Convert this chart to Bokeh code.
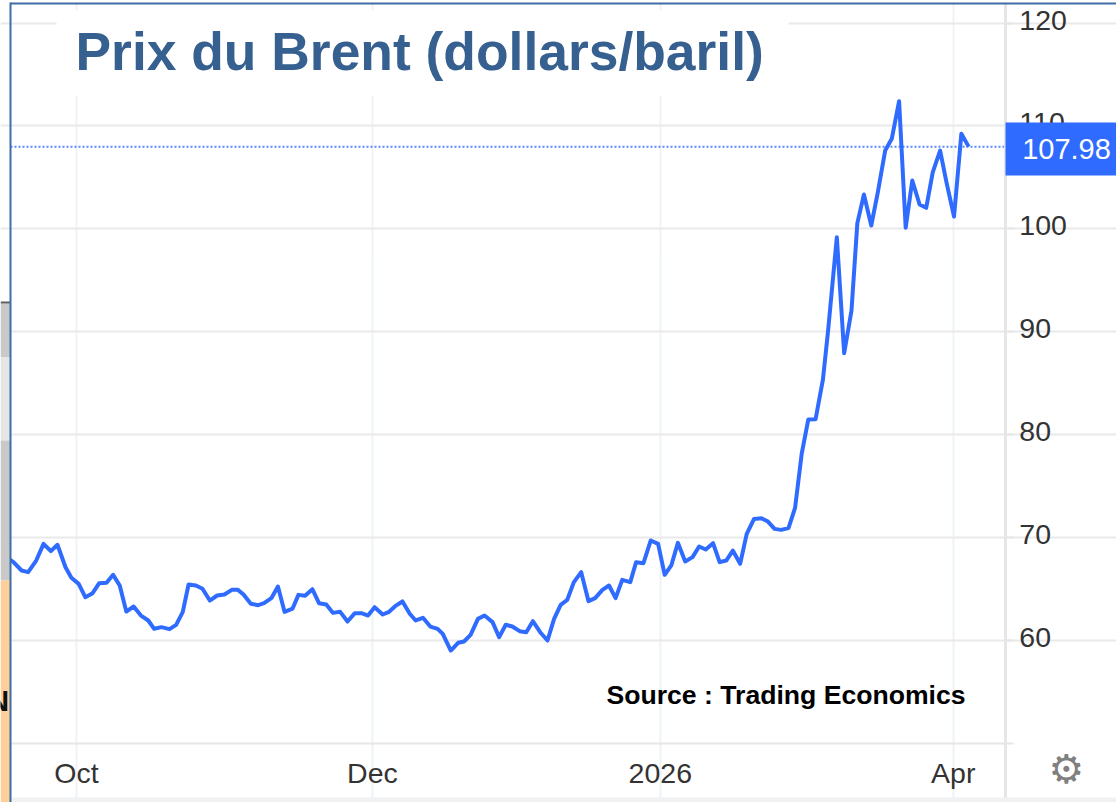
from bokeh.plotting import figure
from bokeh.models import (Range1d, FixedTicker, BoxAnnotation, Label, LinearAxis)
from bokeh.embed import file_html
from bokeh.resources import INLINE

sessions = [-9.9,-8.6,-7.5,-6.6,-5.5,-4.5,-3.5,-2.6,-1.5,-0.7,0.3,1.2,2.2,3.1,4.1,5.0,5.9,6.8,7.8,8.8,9.8,10.6,
 11.6,12.7,13.6,14.5,15.3,16.3,17.2,18.2,19.2,20.2,21.2,22.0,22.8,23.8,24.8,25.6,26.6,27.5,28.4,29.5,30.3,31.2,
 32.2,33.1,34.1,35.0,36.0,37.0,38.0,38.9,39.8,40.7,41.8,42.6,43.5,44.5,45.5,46.3,47.3,48.3,49.3,50.0,51.1,52.1,
 52.9,53.8,54.8,55.7,56.8,57.7,58.6,59.5,60.5,61.4,62.3,63.3,64.3,65.2,66.1,67.0,67.9,68.9,69.9,70.8,71.8,72.7,
 73.6,74.5,75.6,76.4,77.4,78.4,79.4,80.3,81.2,82.1,83.1,84.1,85.0,85.9,86.9,87.8,88.7,89.6,90.6,91.5,92.5,93.5,
 94.4,95.3,96.2,97.2,98.1,99.0,99.9,100.9,101.9,102.6,103.8,104.8,105.8,106.6,107.5,108.5,109.4,110.4,111.3,
 112.3,113.2,114.1,115.1,116.0,116.9,117.9,118.8,119.8,120.8,121.8]
brent = [68.2,67.57,66.76,66.6,67.73,69.35,68.64,69.26,67.08,66.05,65.46,64.17,64.56,65.53,65.56,66.34,65.3,62.77,
 63.26,62.38,61.9,61.09,61.25,61.06,61.48,62.71,65.4,65.3,64.98,63.84,64.33,64.43,64.88,64.9,64.43,63.52,63.39,
 63.58,64.07,65.2,62.74,63.06,64.39,64.3,64.94,63.58,63.45,62.64,62.74,61.8,62.61,62.61,62.38,63.19,62.48,62.71,
 63.29,63.75,62.55,61.9,62.16,61.31,61.09,60.6,58.98,59.73,59.86,60.5,62.06,62.38,61.74,60.28,61.48,61.31,60.86,
 60.76,61.83,60.76,59.95,62.06,63.42,63.91,65.63,66.6,63.78,64.07,64.88,65.3,64.07,65.85,65.63,67.57,67.47,69.68,
 69.35,66.34,67.25,69.45,67.64,68.06,69.1,68.8,69.42,67.57,67.73,68.7,67.41,70.32,71.78,71.85,71.52,70.81,70.71,
 70.88,72.85,78.1,81.44,81.47,85.32,90.02,99.17,87.89,92.04,100.54,103.33,100.31,103.55,107.6,108.74,112.4,100.09,
 104.69,102.35,102.03,105.5,107.6,104.4,101.19,109.23,107.98]
last_price = 107.98
y_ticks = [60,70,80,90,100,110,120]
x_ticks = [0,40.4,79.7,119.7]
x_labels = ["Oct","Dec","2026","Apr"]
title_text = "Prix du Brent (dollars/baril)"
source_text = "Source : Trading Economics"

# chart extents in data units, and the wider canvas around them
X_MIN, X_MAX = -9.01, 126.8
Y_MIN, Y_MAX = 49.93, 122.19
Y_FLOOR = 44.2
LABEL_SHIFT = 0.29

BLUE = "#2f6bff"
p = figure(width=1116, height=802, output_backend="svg", toolbar_location=None,
           x_range=Range1d(-10.375,141.98), y_range=Range1d(Y_FLOOR,Y_MAX),
           y_axis_location="right", min_border=0, outline_line_color=None)
p.extra_y_ranges = {"labels": Range1d(Y_FLOOR-LABEL_SHIFT, Y_MAX-LABEL_SHIFT)}

p.xgrid.ticker = FixedTicker(ticks=x_ticks)
p.ygrid.ticker = FixedTicker(ticks=y_ticks)
p.xgrid.grid_line_color = "#eef3f8"; p.xgrid.grid_line_width = 2
p.ygrid.grid_line_color = "#e9e9e9"; p.ygrid.grid_line_width = 2
p.xgrid.bounds = (Y_MIN, Y_MAX)
p.ygrid.bounds = (X_MIN, X_MAX)

ax = p.xaxis[0]
ax.fixed_location = Y_MIN
ax.bounds = (X_MIN, X_MAX)
ax.ticker = FixedTicker(ticks=x_ticks)
ax.major_label_overrides = dict(zip(x_ticks, x_labels))
ax.major_tick_line_color = None; ax.minor_tick_line_color = None
ax.axis_line_color = "#e6e6e6"; ax.axis_line_width = 2
ax.major_label_text_font = "Liberation Sans"; ax.major_label_text_font_size = "28.5px"
ax.major_label_text_color = "#333333"; ax.major_label_standoff = 7

ay = p.yaxis[0]
ay.fixed_location = X_MAX
ay.ticker = FixedTicker(ticks=y_ticks)
ay.major_tick_line_color = "#e6e6e6"; ay.major_tick_line_width = 2
ay.major_tick_out = 8; ay.major_tick_in = 0; ay.minor_tick_line_color = None
ay.axis_line_color = "#e6e6e6"; ay.axis_line_width = 3
ay.major_label_text_font_size = "0px"; ay.major_label_text_color = None

al = LinearAxis(y_range_name="labels", fixed_location=X_MAX, ticker=FixedTicker(ticks=y_ticks))
al.axis_line_color = None; al.major_tick_line_color = None; al.minor_tick_line_color = None
al.major_tick_out = 8; al.major_tick_in = 0
al.major_label_text_font = "Liberation Sans"; al.major_label_text_font_size = "28.5px"
al.major_label_text_color = "#333333"; al.major_label_standoff = 6
p.add_layout(al, "right")

p.line(sessions, brent, line_color=BLUE, line_width=4, line_join="round")
p.line([X_MIN, X_MAX], [last_price, last_price], line_color=BLUE, line_width=2, line_dash="2 2", line_alpha=0.8)

def box(l, t, r, b, color):
    p.add_layout(BoxAnnotation(left=l, right=r, top=t, bottom=b, left_units="canvas", right_units="canvas",
                 top_units="canvas", bottom_units="canvas", fill_color=color, fill_alpha=1,
                 line_color=None, editable=False))

def label(x, y, text, size, color, style="normal", font="Liberation Sans", align="left"):
    p.add_layout(Label(x=x, y=y, x_units="canvas", y_units="canvas", text=text, text_font=font,
                 text_font_size=size, text_color=color, text_font_style=style, text_align=align,
                 text_baseline="alphabetic"))

# title backing that interrupts the gridlines
box(56,10,788,95,"#ffffff")
# quote tag
box(1005,122,1116,175,BLUE)
# surroundings of the pasted screenshot
box(0,0,1116,2,"#ffffff")
box(1004,743,1006,797,"#e6e6e6")
box(1005,742,1013,744,"#e6e6e6")
box(10,797,1116,802,"#f0f1f3")
box(0,303,10,357,"#c9c9c9")
box(0,357,10,440,"#e6e6e6")
box(0,440,10,580,"#c9c9c9")
box(0,580,10,802,"#fdd09b")
box(0,301,10,303,"#5f5f5f")
box(10,2,1116,4,"#3f6ea5")
box(9,2,11,802,"#3f6ea5")

label(75,51,title_text,"53.4px","#35608f","bold")
label(606,694,source_text,"26.6px","#000000","bold")
label(1066,148,"107.98","29px","#ffffff",align="center")
label(-13,700,"N","30px","#111111","bold")
label(1066,768,"\u2699","40px","#808080",font="DejaVu Sans",align="center")

open("out.html","w").write(file_html(p, INLINE))
